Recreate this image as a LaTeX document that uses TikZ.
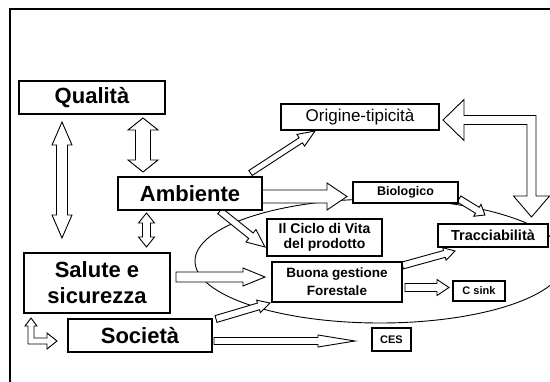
\documentclass[tikz,border=0pt]{standalone}
\usepackage{fontspec}
\setmainfont{Liberation Sans}
\usetikzlibrary{calc}
\tikzset{
 box/.style={draw, fill=white, line width=1.1pt, inner sep=0pt, align=center},
 bigtxt/.style={font=\fontsize{22}{26}\selectfont\bfseries},
 arrowbox/.style={draw, fill=white, line width=0.9pt, line join=miter},
 frameline/.style={line width=2pt},
 loop/.style={line width=0.9pt},
}
\newcommand\blkarrow[5]{%
 \coordinate (hb) at ($(#2)!#5!(#1)$);
 \draw[arrowbox] ($(#1)!#3!90:(#2)$) -- ($(hb)!#3!90:(#2)$) -- ($(hb)!#4!90:(#2)$) -- (#2) -- ($(hb)!#4!-90:(#2)$) -- ($(hb)!#3!-90:(#2)$) -- ($(#1)!#3!-90:(#2)$) -- cycle;}
\newcommand\dblkarrow[5]{%
 \coordinate (ha) at ($(#1)!#5!(#2)$);
 \coordinate (hb) at ($(#2)!#5!(#1)$);
 \draw[arrowbox] (#1) -- ($(ha)!#4!90:(#2)$) -- ($(ha)!#3!90:(#2)$) -- ($(hb)!#3!90:(#2)$) -- ($(hb)!#4!90:(#2)$) -- (#2) -- ($(hb)!#4!-90:(#2)$) -- ($(hb)!#3!-90:(#2)$) -- ($(ha)!#3!-90:(#2)$) -- ($(ha)!#4!-90:(#2)$) -- cycle;}
\begin{document}
\begin{tikzpicture}[x=1pt,y=-1pt]
\useasboundingbox (0,0) rectangle (550,381);
\clip (0,0) rectangle (550,381);
\fill[white] (0,0) rectangle (550,381);
% frame
\draw[frameline] (10,382) -- (10,9) -- (551,9);
% loop
\draw[loop] (380,261) ellipse [x radius=185, y radius=62];
% coordinates for arrows
\coordinate (qs1) at (62,122); \coordinate (qs2) at (62,238);
\coordinate (qa1) at (143,118); \coordinate (qa2) at (143,172);
\coordinate (as1) at (146.5,213); \coordinate (as2) at (146.5,247);
\coordinate (ao1) at (250.5,173); \coordinate (ao2) at (315,131);
\coordinate (ab1) at (262,196.5); \coordinate (ab2) at (347,196.5);
\coordinate (ac1) at (220,211); \coordinate (ac2) at (265,247);
\coordinate (bt1) at (459,199); \coordinate (bt2) at (485,215);
\coordinate (sb1) at (176,277); \coordinate (sb2) at (265,277);
\coordinate (sob1) at (216,319); \coordinate (sob2) at (270,303);
\coordinate (sc1) at (214,341); \coordinate (sc2) at (355,341);
\coordinate (bgt1) at (402.5,265.5); \coordinate (bgt2) at (455,251);
\coordinate (bgc1) at (405,287.5); \coordinate (bgc2) at (449,287.5);
\dblkarrow{qs1}{qs2}{5.5pt}{10pt}{23pt}
\dblkarrow{qa1}{qa2}{7.5pt}{15pt}{12pt}
\dblkarrow{as1}{as2}{4pt}{8pt}{10pt}
\blkarrow{ao1}{ao2}{3pt}{7pt}{17pt}
\blkarrow{ab1}{ab2}{6.5pt}{13.5pt}{20pt}
\blkarrow{ac1}{ac2}{3.5pt}{8pt}{18pt}
\blkarrow{bt1}{bt2}{3.5pt}{7pt}{9pt}
\blkarrow{sb1}{sb2}{5pt}{9pt}{22pt}
\blkarrow{sob1}{sob2}{3.5pt}{6.5pt}{12pt}
\blkarrow{sc1}{sc2}{3.5pt}{6pt}{37pt}
\blkarrow{bgt1}{bgt2}{3.5pt}{6.5pt}{11pt}
\blkarrow{bgc1}{bgc2}{4pt}{8pt}{12pt}
% L-shaped arrows
\draw[arrowbox] (443,120) -- (464,99.5) -- (464,115.5) -- (536,115.5) -- (536,196) -- (549.5,196) -- (531.5,217) -- (513.5,196) -- (527,196) -- (527,124.5) -- (464,124.5) -- (464,140.5) -- cycle;
\draw[arrowbox] (31,318) -- (37,326) -- (34,326) -- (34,338) -- (47,338) -- (47,333) -- (57,341) -- (47,349) -- (47,344) -- (28,344) -- (28,326) -- (25,326) -- cycle;
% boxes
\node[box, bigtxt, minimum width=146pt, minimum height=33pt] (qual) at (92,97.5) {Qualità};
\node[box, bigtxt, minimum width=144pt, minimum height=33pt] (amb) at (190,193.5) {Ambiente};
\node[box, bigtxt, minimum width=146pt, minimum height=60pt] (sal) at (97,283) {Salute e\\sicurezza};
\node[box, bigtxt, minimum width=144pt, minimum height=33pt] (soc) at (140,335.5) {Società};
\node[box, font=\fontsize{17}{19}\selectfont, minimum width=158pt, minimum height=26pt] (orig) at (360,117) {Origine-tipicità};
\node[box, font=\fontsize{12.5}{15}\selectfont\bfseries, minimum width=105pt, minimum height=21pt] (bio) at (405.5,192.5) {Biologico};
\node[box, font=\fontsize{14}{14.5}\selectfont\bfseries, minimum width=115pt, minimum height=37pt] (ciclo) at (324.5,237.5) {Il Ciclo di Vita\\del prodotto};
\node[box, font=\fontsize{13.5}{18}\selectfont\bfseries, minimum width=130pt, minimum height=40pt] (buona) at (337,282) {Buona gestione\\Forestale};
\node[box, font=\fontsize{14.5}{17}\selectfont\bfseries, minimum width=110pt, minimum height=23pt] (trac) at (493,235.5) {Tracciabilità};
\node[box, font=\fontsize{11}{13}\selectfont\bfseries, minimum width=52pt, minimum height=20pt] (csink) at (479,291) {C sink};
\node[box, font=\fontsize{11}{13}\selectfont\bfseries, minimum width=39pt, minimum height=23pt] (ces) at (391.5,339.5) {CES};
\end{tikzpicture}
\end{document}
